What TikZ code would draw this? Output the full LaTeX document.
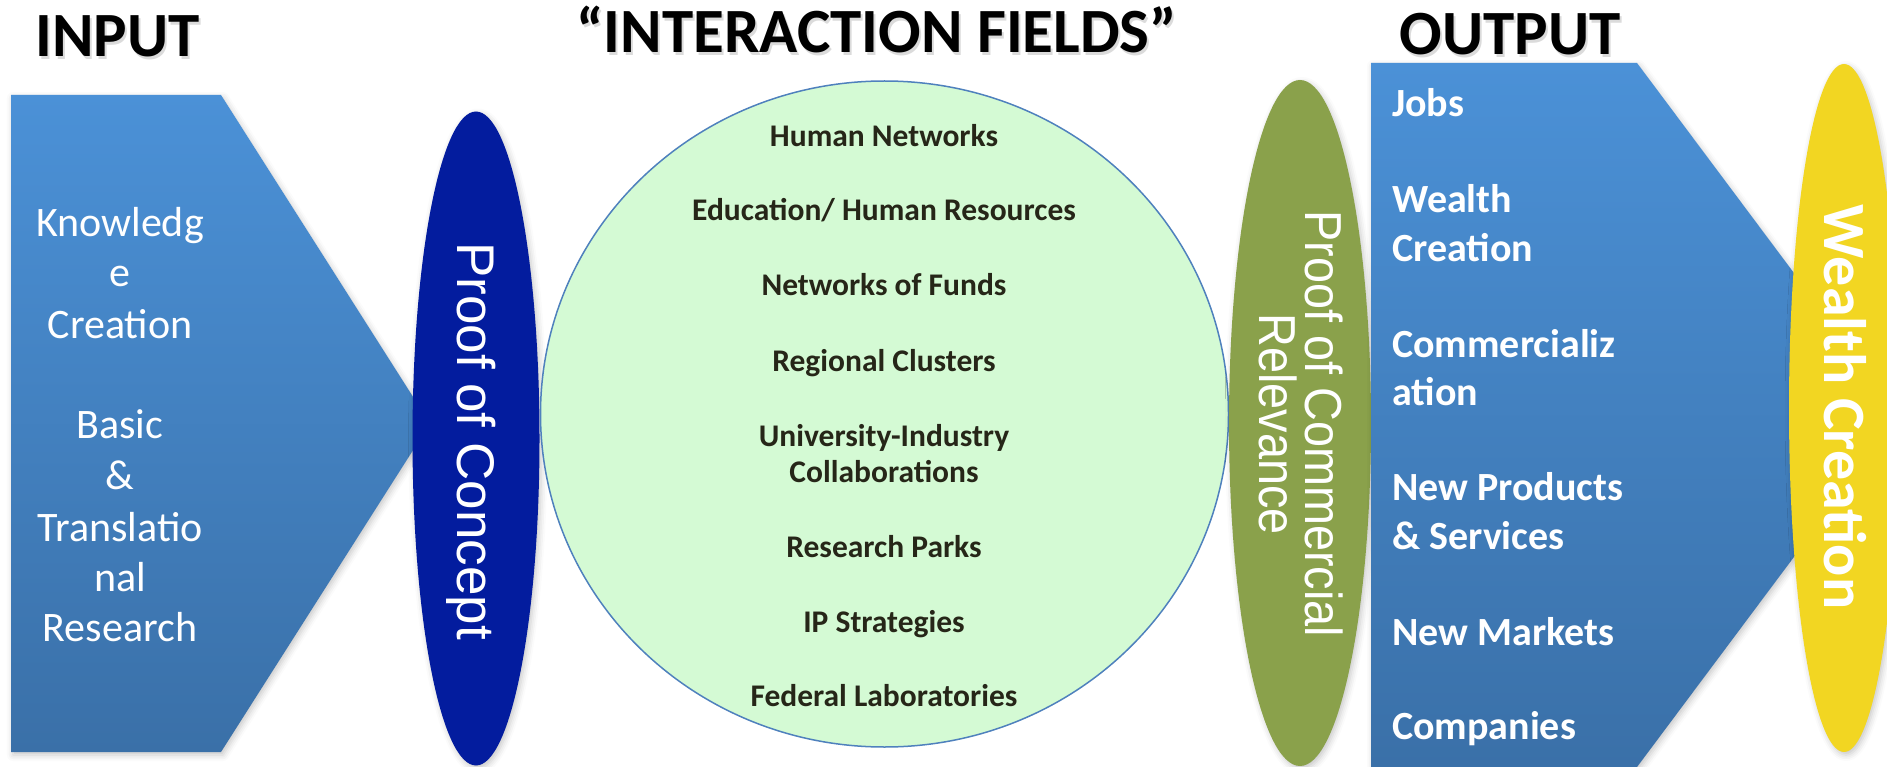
\documentclass[tikz,border=0pt]{standalone}
\usepackage{fontspec}
\setmainfont{Carlito}
\newfontfamily\arialf{Liberation Sans}
\usetikzlibrary{shadows.blur}
\definecolor{arrowtop}{RGB}{75,145,215}
\definecolor{arrowbot}{RGB}{58,112,168}
\definecolor{pocblue}{RGB}{3,28,158}
\definecolor{olivegreen}{RGB}{138,161,75}
\definecolor{wyellow}{RGB}{242,214,34}
\definecolor{mint}{RGB}{212,250,212}
\definecolor{circleline}{RGB}{79,129,189}
\definecolor{fieldtext}{RGB}{38,38,24}
\tikzset{
  softshadow/.style={blur shadow={shadow xshift=2pt,shadow yshift=-3pt,shadow blur radius=6pt,shadow opacity=22}},
  arrowshape/.style={top color=arrowtop,bottom color=arrowbot,draw=none,softshadow},
  titletext/.style={font=\fontsize{63}{70}\selectfont\bfseries,text=black,anchor=base,inner sep=0pt},
  titleshadow/.style={font=\fontsize{63}{70}\selectfont\bfseries,text=black,text opacity=0.14,anchor=base,inner sep=0pt},
  intext/.style={font=\fontsize{42}{50}\selectfont,text=white,anchor=base,inner sep=0pt},
  outtext/.style={font=\fontsize{40}{48}\selectfont\bfseries,text=white,anchor=base west,inner sep=0pt},
  fieldlabel/.style={font=\fontsize{31.5}{36}\selectfont\bfseries,text=fieldtext,anchor=base,inner sep=0pt},
  vertlabel/.style={text=white,rotate=-90,inner sep=0pt,align=center}
}
\begin{document}
\begin{tikzpicture}[x=1pt,y=-1pt]
\useasboundingbox (0,0) rectangle (1887,767);
\clip (0,0) rectangle (1887,767);

% titles
\node[titleshadow] (inputs) at (119.5,59.5) {INPUT};
\node[titletext] (input) at (117.5,57) {INPUT};
\node[titleshadow] (fieldss) at (878.5,55.5) {“INTERACTION FIELDS”};
\node[titletext] (fields) at (876.5,53) {“INTERACTION FIELDS”};
\node[titleshadow] (outputs) at (1512,57.5) {OUTPUT};
\node[titletext] (output) at (1510,55) {OUTPUT};

% input arrow
\path[arrowshape] (11,95) -- (221,95) -- (430,423.5) -- (221,752) -- (11,752) -- cycle;
\node[intext] (in1) at (120,237) {Knowledg};
\node[intext] (in2) at (120,287) {e};
\node[intext] (in3) at (120,338) {Creation};
\node[intext] (in4) at (120,438) {Basic};
\node[intext] (in5) at (120,489) {\&};
\node[intext] (in6) at (120,541) {Translatio};
\node[intext] (in7) at (120,591) {nal};
\node[intext] (in8) at (120,641) {Research};

% proof of concept
\path[fill=pocblue,softshadow] (476,438.5) ellipse [x radius=63.5pt, y radius=327pt];
\node[vertlabel,font=\arialf\fontsize{53}{60}\selectfont] (poc) at (471,441) {Proof of Concept};

% interaction field circle
\path[fill=mint,draw=circleline,line width=1.5pt] (884.5,414) ellipse [x radius=344pt, y radius=333pt];
\node[fieldlabel] (f1) at (884,147) {Human Networks};
\node[fieldlabel] (f2) at (884,221) {Education/ Human Resources};
\node[fieldlabel] (f3) at (884,296) {Networks of Funds};
\node[fieldlabel] (f4) at (884,371) {Regional Clusters};
\node[fieldlabel] (f5) at (884,446) {University-Industry};
\node[fieldlabel] (f6) at (884,482) {Collaborations};
\node[fieldlabel] (f7) at (884,557) {Research Parks};
\node[fieldlabel] (f8) at (884,632) {IP Strategies};
\node[fieldlabel] (f9) at (884,706) {Federal Laboratories};

% proof of commercial relevance
\path[fill=olivegreen,softshadow] (1300,423) ellipse [x radius=71pt, y radius=343pt];
\node[vertlabel,font=\arialf\fontsize{52}{46}\selectfont] (pcr) at (1301,424)
  {\scalebox{0.9}[1]{Proof of Commercial}\\\scalebox{0.9}[1]{Relevance}};

% output arrow
\path[arrowshape] (1371,63) -- (1637,63) -- (1900,415) -- (1637,767) -- (1371,767) -- cycle;
\node[outtext] (o1) at (1392,117) {Jobs};
\node[outtext] (o2) at (1392,213) {Wealth};
\node[outtext] (o3) at (1392,262) {Creation};
\node[outtext] (o4) at (1392,357) {Commercializ};
\node[outtext] (o5) at (1392,405) {ation};
\node[outtext] (o6) at (1392,500) {New Products};
\node[outtext] (o7) at (1392,549) {\& Services};
\node[outtext] (o8) at (1392,645) {New Markets};
\node[outtext] (o9) at (1392,739) {Companies};

% wealth creation
\path[fill=wyellow,softshadow] (1844,408) ellipse [x radius=55pt, y radius=344pt];
\node[vertlabel,font=\fontsize{60}{66}\selectfont\bfseries] (wc) at (1845,407) {Wealth Creation};
\end{tikzpicture}
\end{document}
